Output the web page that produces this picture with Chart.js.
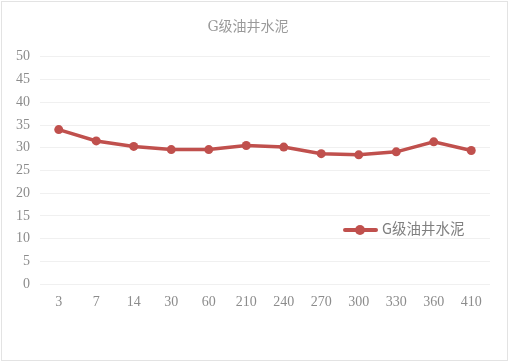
<!DOCTYPE html>
<html>
<head>
<meta charset="utf-8">
<script src="https://cdn.jsdelivr.net/npm/chart.js@4"></script>
<style>
  html, body { margin: 0; padding: 0; background: #fff; }
  #wrap { position: relative; width: 509px; height: 362px; }
  #frame { position: absolute; left: 1px; top: 1px; width: 505px; height: 358px; border: 1px solid #e3e3e3; }
  #legend { position: absolute; left: 343px; top: 217px; font-family: "Noto Sans CJK SC", sans-serif; font-size: 14.5px; color: #808080; white-space: nowrap; }
  #legend .line { display: inline-block; position: relative; width: 35px; height: 4px; background: #c0504d; vertical-align: middle; margin-right: 4px; border-radius: 2px; }
  #legend .dot { position: absolute; left: 12px; top: -3px; width: 10px; height: 10px; border-radius: 50%; background: #c0504d; }
</style>
</head>
<body>
<div id="wrap">
  <div id="frame"></div>
  <canvas id="line_cement" width="509" height="362"></canvas>
  <div id="legend"><span class="line"><span class="dot"></span></span>G级油井水泥</div>
</div>
<script>
const days = ["3", "7", "14", "30", "60", "210", "240", "270", "300", "330", "360", "410"];
const strength = [34.0, 31.5, 30.3, 29.6, 29.6, 30.5, 30.15, 28.7, 28.45, 29.1, 31.3, 29.4];
const seriesName = "G级油井水泥";
const yMin = 0, yMax = 50, yStep = 5;

const config_cement = {
    type: "line",
    data: {
        labels: days,
        datasets: [
            {
                label: seriesName,
                data: strength,
                borderColor: "#c0504d",
                backgroundColor: "#c0504d",
                borderWidth: 3.5,
                pointRadius: 4.5,
                pointHoverRadius: 4.5,
                pointBorderWidth: 0,
                tension: 0
            }
        ]
    },
    options: {
        responsive: false,
        animation: false,
        layout: { padding: { left: 6, right: 19, top: 4, bottom: 49 } },
        plugins: {
            legend: { display: false },
            tooltip: { enabled: false },
            title: {
                display: true,
                text: seriesName,
                color: "#9a9a9a",
                font: { family: "'DejaVu Serif', 'Noto Sans CJK SC', serif", size: 14, weight: "normal" },
                padding: { top: 15, bottom: 21 }
            }
        },
        scales: {
            x: {
                offset: true,
                grid: { display: false },
                border: { display: false },
                ticks: {
                    color: "#8c8c8c",
                    font: { family: "'Liberation Serif', serif", size: 14 },
                    padding: 2,
                    maxRotation: 0,
                    autoSkip: false
                }
            },
            y: {
                min: yMin,
                max: yMax,
                grid: { color: "#f0f0f0", lineWidth: 1, drawTicks: false },
                border: { display: false },
                ticks: {
                    stepSize: yStep,
                    color: "#8c8c8c",
                    font: { family: "'Liberation Serif', serif", size: 14 },
                    padding: 10
                }
            }
        }
    }
};

const ctx_cement = document.getElementById("line_cement").getContext("2d");
const myChart_cement = new Chart(ctx_cement, config_cement);
</script>
</body>
</html>
